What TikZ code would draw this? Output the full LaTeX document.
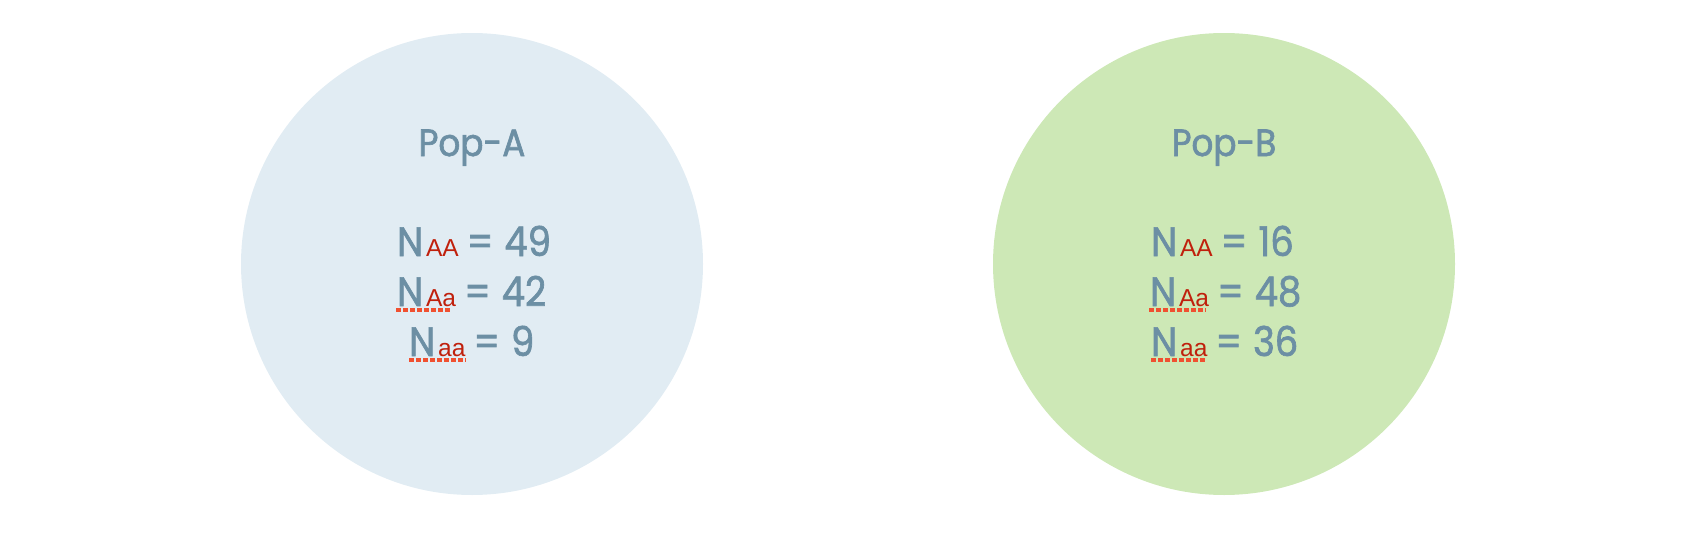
\documentclass[tikz,border=0pt]{standalone}
\usepackage{fontspec}
\newfontfamily\geo{Poppins}[FakeBold=1.6, FakeStretch=0.9]
\newfontfamily\helv{Liberation Sans}
\definecolor{txt}{HTML}{6C8FA4}
\definecolor{subred}{HTML}{C0200C}
\definecolor{dotred}{HTML}{F05030}
\definecolor{fillA}{HTML}{E1ECF3}
\definecolor{fillB}{HTML}{CDE8B6}
\tikzset{
  pop/.style={circle, inner sep=0pt, minimum size=462pt},
  poplabel/.style={anchor=base, inner sep=0pt, text=txt, font=\geo\fontsize{38}{38}\selectfont},
  row/.style={anchor=base west, inner sep=0pt, text=txt, font=\geo\fontsize{41}{41}\selectfont},
  uline/.style={draw=dotred, line width=3.2pt, dash pattern=on 4.5pt off 2.5pt}
}
\newcommand{\gsub}[1]{\hspace{3pt}{\helv\fontsize{24.5}{24.5}\selectfont\color{subred}#1}\hspace{8pt}}
\begin{document}
\begin{tikzpicture}[x=1pt,y=-1pt]
\useasboundingbox (0,0) rectangle (1697,538);
\node[pop, fill=fillA] (cA) at (472,264) {};
\node[pop, fill=fillB] (cB) at (1224,264) {};
\node[poplabel] (pA) at (472,156) {Pop-A};
\node[poplabel] (pB) at (1224,156) {Pop-B};
\node[row] (a1) at (397,256) {N\gsub{AA}=\hspace{11pt}49};
\node[row] (a2) at (397,306) {N\gsub{Aa}=\hspace{11pt}42};
\node[row] (a3) at (409,356) {N\gsub{aa}=\hspace{11pt}9};
\node[row] (b1) at (1151,256) {N\gsub{AA}=\hspace{11pt}16};
\node[row] (b2) at (1150,306) {N\gsub{Aa}=\hspace{11pt}48};
\node[row] (b3) at (1151,356) {N\gsub{aa}=\hspace{11pt}36};
\coordinate (ua2s) at (396,310); \coordinate (ua2e) at (452,310);
\coordinate (ua3s) at (409,360); \coordinate (ua3e) at (466,360);
\coordinate (ub2s) at (1149,310); \coordinate (ub2e) at (1206,310);
\coordinate (ub3s) at (1151,360); \coordinate (ub3e) at (1207,360);
\draw[uline] (ua2s) -- (ua2e);
\draw[uline] (ua3s) -- (ua3e);
\draw[uline] (ub2s) -- (ub2e);
\draw[uline] (ub3s) -- (ub3e);
\end{tikzpicture}
\end{document}
